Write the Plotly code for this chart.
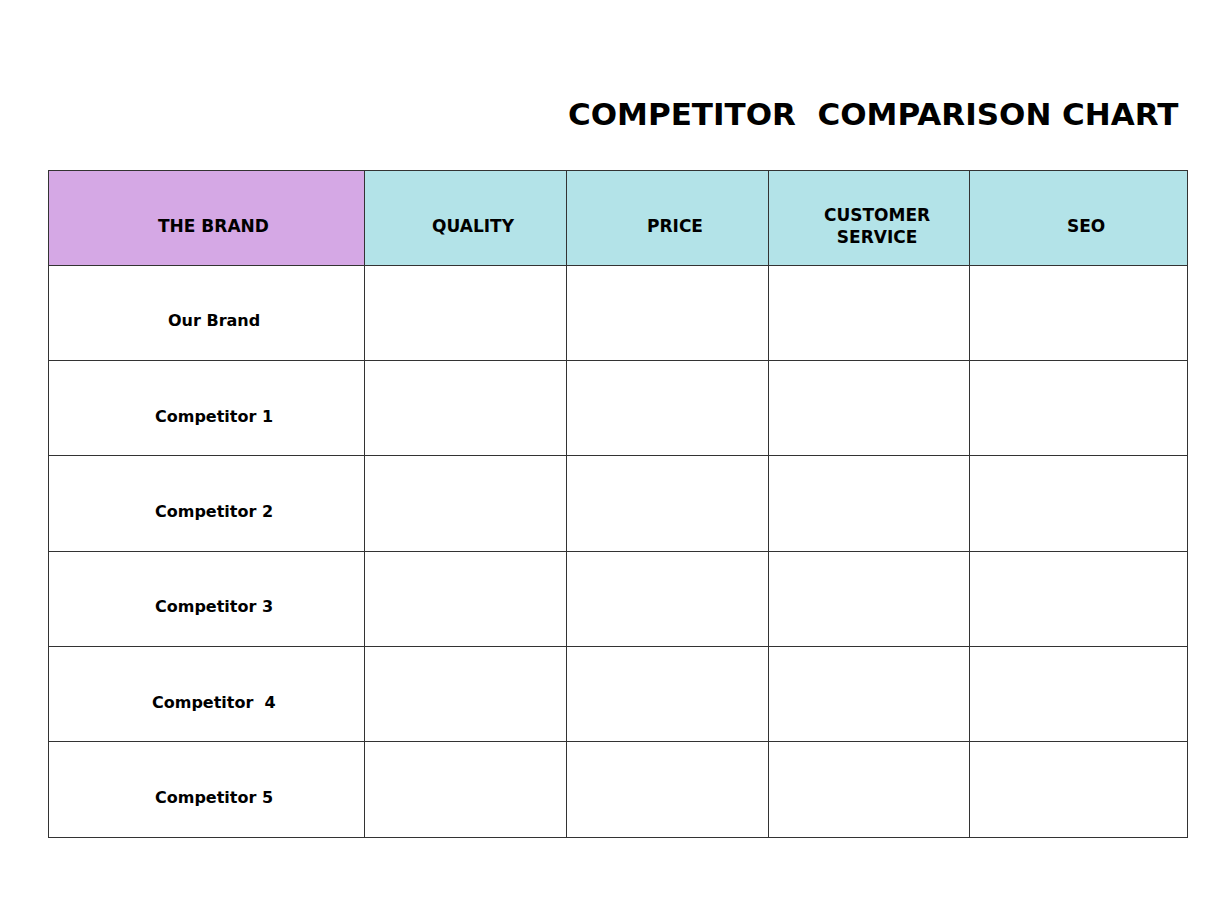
import plotly.graph_objects as go

title = "COMPETITOR  COMPARISON CHART"
headers = ["THE BRAND", "QUALITY", "PRICE", "CUSTOMER<br>SERVICE", "SEO"]
brands = ["Our Brand", "Competitor 1", "Competitor 2", "Competitor 3", "Competitor  4", "Competitor 5"]
header_colors = ["#d5a8e5", "#b3e3e8", "#b3e3e8", "#b3e3e8", "#b3e3e8"]
col_widths = [316, 202, 202, 201, 218]

W, H = 1232, 906
x0, y0 = 48, 170
rowh = 95.3
off = 8
total = sum(col_widths)

fig = go.Figure(go.Table(
    columnwidth=col_widths,
    header=dict(values=[""] * 5,
                fill_color=header_colors, line=dict(color="#333333", width=1),
                height=rowh),
    cells=dict(values=[[""] * len(brands)] * 5,
               fill_color="white", line=dict(color="#333333", width=1),
               height=rowh),
    domain=dict(x=[(x0 - off) / W, (x0 - off + total) / W], y=[0, 1 - (y0 - off) / H]),
))

def cx(i):
    return x0 + sum(col_widths[:i]) + col_widths[i] / 2

for i, h in enumerate(headers):
    fig.add_annotation(text="<b>" + h + "</b>", xref="paper", yref="paper",
                       x=cx(i) / W, y=1 - (y0 + rowh / 2) / H, showarrow=False,
                       xanchor="center", yanchor="middle",
                       font=dict(family="DejaVu Sans", size=17, color="black"))
for r, b in enumerate(brands):
    fig.add_annotation(text="<b>" + b + "</b>", xref="paper", yref="paper",
                       x=cx(0) / W, y=1 - (y0 + rowh * (r + 1.5)) / H, showarrow=False,
                       xanchor="center", yanchor="middle",
                       font=dict(family="DejaVu Sans", size=16, color="black"))

fig.add_annotation(text="<b>" + title + "</b>", xref="paper", yref="paper",
                   x=1172 / W, y=1 - 106 / H, xanchor="right", yanchor="middle",
                   showarrow=False, font=dict(family="DejaVu Sans", size=31, color="black"))
fig.update_layout(width=W, height=H, margin=dict(l=0, r=0, t=0, b=0),
                  paper_bgcolor="white", plot_bgcolor="white")
fig.write_html("out.html")
